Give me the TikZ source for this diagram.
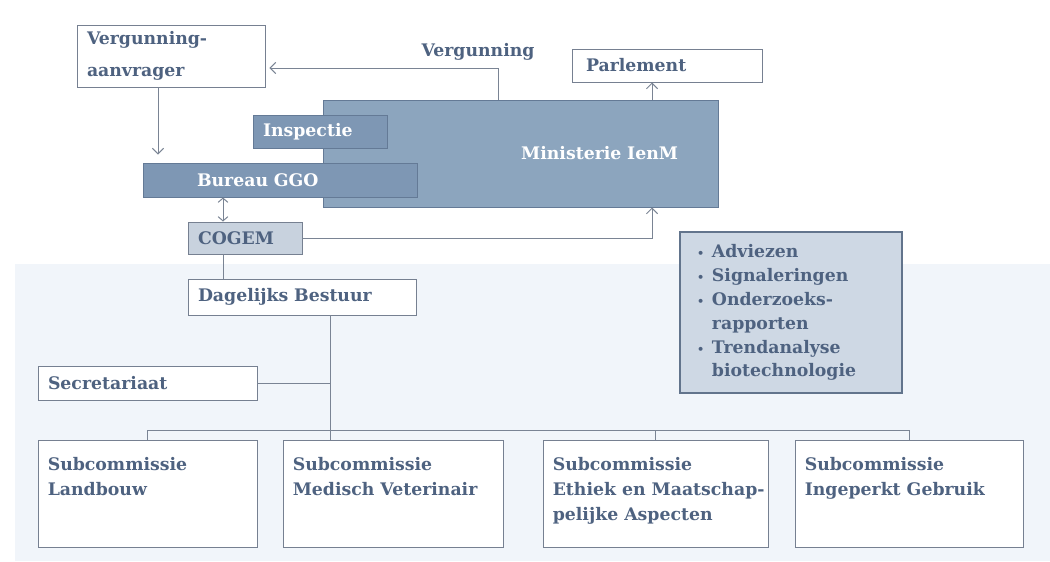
\documentclass[tikz,border=0pt]{standalone}
\usepackage{fontspec}
\setmainfont{DejaVu Serif}
\usetikzlibrary{arrows.meta}

\definecolor{txtblue}{RGB}{78,98,128}
\definecolor{boxgray}{RGB}{118,128,145}
\definecolor{minblue}{RGB}{140,165,190}
\definecolor{insblue}{RGB}{126,151,180}
\definecolor{darkedge}{RGB}{100,122,150}
\definecolor{cogemfill}{RGB}{200,210,222}
\definecolor{listfill}{RGB}{206,216,228}
\definecolor{listedge}{RGB}{98,116,140}
\definecolor{linegray}{RGB}{122,132,148}
\definecolor{bandblue}{RGB}{241,245,250}

\newcommand{\dotitem}{{\fontsize{8}{8}\selectfont•}\hspace{0.45em}}
\newcommand{\dotskip}{\phantom{\dotitem}}

\tikzset{
  box/.style={draw=boxgray, fill=white, line width=0.7pt, text=txtblue, align=left,
    inner xsep=0.25cm, inner ysep=0pt, font=\bfseries\fontsize{12.3}{17}\selectfont},
  darkbox/.style={box, draw=darkedge, fill=insblue, text=white},
  subbox/.style={box, minimum height=2.675cm},
  subtext/.style={anchor=north west, inner xsep=0.25cm, inner ysep=0.45cm, align=left,
    text=txtblue, font=\bfseries\fontsize{12.3}{17.8}\selectfont},
  link/.style={draw=linegray, line width=0.7pt},
  arr/.style={link, -{Straight Barb[length=4pt,width=8pt]}},
  dbl/.style={link, {Straight Barb[length=3pt,width=7pt]}-{Straight Barb[length=3pt,width=7pt]}}
}

\begin{document}
\begin{tikzpicture}
\useasboundingbox (0,0) rectangle (26.25,-14.025);
\fill[bandblue] (0.375,-6.6) rectangle (26.25,-14.025);

\node[box, minimum width=4.7cm, minimum height=1.55cm, text width=4.2cm,
  font=\bfseries\fontsize{12.3}{22.5}\selectfont] (aanvrager) at (4.275,-1.4) {Vergunning-\\aanvrager};
\node[box, minimum width=4.75cm, minimum height=0.825cm, text width=4.05cm, inner xsep=0.35cm] (parlement) at (16.675,-1.6375) {Parlement};
\node[darkbox, fill=minblue, minimum width=9.875cm, minimum height=2.675cm, text width=7.875cm,
  inner xsep=1cm, align=right] (ministerie) at (13.0125,-3.8375) {Ministerie IenM};
\node[darkbox, minimum width=3.35cm, minimum height=0.825cm, text width=2.85cm] (inspectie) at (8,-3.2875) {Inspectie};
\node[darkbox, minimum width=6.85cm, minimum height=0.85cm, text width=4.15cm, inner xsep=1.35cm] (bureau) at (7,-4.5) {Bureau GGO};
\node[box, fill=cogemfill, minimum width=2.85cm, minimum height=0.8cm, text width=2.35cm] (cogem) at (6.125,-5.95) {COGEM};
\node[box, minimum width=5.7cm, minimum height=0.9cm, text width=5.2cm] (dagelijks) at (7.55,-7.425) {Dagelijks Bestuur};
\node[box, minimum width=5.475cm, minimum height=0.85cm, text width=4.975cm] (secretariaat) at (3.6875,-9.575) {Secretariaat};
\node[box, fill=listfill, draw=listedge, line width=1pt, minimum width=5.55cm, minimum height=4.025cm,
  text width=4.7cm, inner xsep=0.425cm] (producten) at (19.775,-7.8125)
  {\dotitem Adviezen\\\dotitem Signaleringen\\\dotitem Onderzoeks-\\\dotskip rapporten\\\dotitem Trendanalyse\\\dotskip biotechnologie};

\node[subbox, minimum width=5.475cm, label={[subtext]north west:{Subcommissie\\Landbouw}}] (landbouw) at (3.6875,-12.3375) {};
\node[subbox, minimum width=5.5cm, label={[subtext]north west:{Subcommissie\\Medisch Veterinair}}] (medisch) at (9.825,-12.3375) {};
\node[subbox, minimum width=5.625cm, label={[subtext]north west:{Subcommissie\\Ethiek en Maatschap-\\pelijke Aspecten}}] (ethiek) at (16.3875,-12.3375) {};
\node[subbox, minimum width=5.7cm, label={[subtext]north west:{Subcommissie\\Ingeperkt Gebruik}}] (ingeperkt) at (22.725,-12.3375) {};

\node[text=txtblue, font=\bfseries\fontsize{12.3}{17}\selectfont, anchor=base] (vergunning) at (11.95,-1.42) {Vergunning};

\coordinate (vup) at (12.45,0);
\coordinate (pup) at (16.3,0);
\coordinate (adown) at (3.95,0);
\coordinate (cdown) at (5.575,0);
\coordinate (dvert) at (8.25,0);
\coordinate (bar) at (0,-10.75);

\draw[arr, shorten >=0.1cm] (ministerie.north -| vup) |- ([yshift=-0.3cm]aanvrager.east);
\draw[arr] (ministerie.north -| pup) -- (parlement.south -| pup);
\draw[arr] (cogem.east) -| (ministerie.south -| pup);
\draw[arr, shorten >=0.2cm] (aanvrager.south -| adown) -- (bureau.north -| adown);
\draw[dbl] (bureau.south -| cdown) -- (cogem.north -| cdown);
\draw[link] (cogem.south -| cdown) -- (dagelijks.north -| cdown);
\draw[link] (dagelijks.south -| dvert) -- (medisch.north -| dvert);
\draw[link] (secretariaat.east) -- (secretariaat.east -| dvert);
\draw[link] (landbouw.north) -- (landbouw.north |- bar) -- (ingeperkt.north |- bar) -- (ingeperkt.north);
\draw[link] (ethiek.north) -- (ethiek.north |- bar);

\end{tikzpicture}
\end{document}
